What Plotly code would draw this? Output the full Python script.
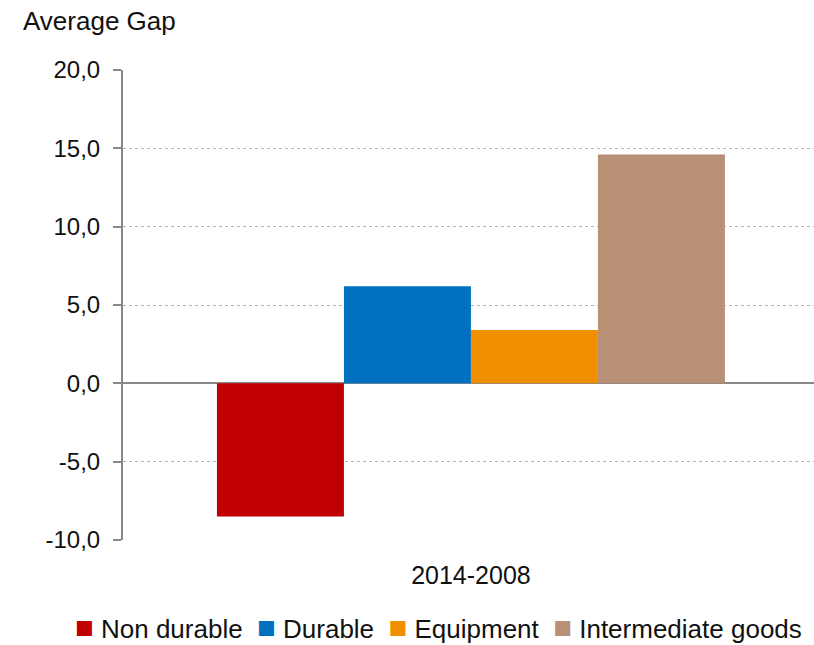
import plotly.graph_objects as go

# Average gap by product type, period 2014-2008
period = ["2014-2008"]
series_names = ["Non durable", "Durable", "Equipment", "Intermediate goods"]
series_values = [-8.5, 6.2, 3.4, 14.6]
series_colors = ["#C00000", "#0070C0", "#F09000", "#B89076"]

y_tick_values = [-10, -5, 0, 5, 10, 15, 20]
y_tick_labels = ["-10,0", "-5,0", "0,0", "5,0", "10,0", "15,0", "20,0"]

FONT = "Liberation Sans, Arial, Helvetica, sans-serif"
NBSP = "\u00a0"

fig = go.Figure()
for name, val, col in zip(series_names, series_values, series_colors):
    fig.add_trace(go.Bar(x=period, y=[val], name=name, showlegend=False,
                         marker=dict(color=col, line=dict(width=0))))

# compact key row beneath the plot: coloured square followed by the series name
key_text = (NBSP * 2).join(
    f"<span style='color:{col};font-size:31px'>\u25a0</span>{NBSP}{name}"
    for name, col in zip(series_names, series_colors)
)

fig.update_layout(
    width=814, height=645,
    margin=dict(l=123, r=0, t=70, b=105),
    paper_bgcolor="white", plot_bgcolor="white",
    barmode="group", bargap=0.27, bargroupgap=0,
    font=dict(family=FONT, size=24, color="#111111"),
    showlegend=False,
    annotations=[
        dict(text="Average Gap", xref="paper", yref="paper", x=-0.148, y=1.105,
             xanchor="left", yanchor="middle", showarrow=False, font=dict(size=26)),
        dict(text=key_text, xref="paper", yref="paper", x=0.456, y=-0.187,
             xanchor="center", yanchor="middle", showarrow=False, font=dict(size=26)),
    ],
)

fig.update_xaxes(range=[-0.5, 0.493], showgrid=False, showline=False, ticks="",
                 tickfont=dict(size=25), ticklabelstandoff=18)
fig.update_yaxes(range=[-10, 20], tickvals=y_tick_values, ticktext=y_tick_labels,
                 showgrid=True, gridcolor="#B4B4B4", griddash="dot", gridwidth=1,
                 zeroline=True, zerolinecolor="#888888", zerolinewidth=2,
                 showline=True, linecolor="#888888", linewidth=2,
                 ticks="outside", ticklen=8, tickcolor="#888888", tickwidth=2,
                 tickfont=dict(size=24), ticklabelstandoff=8)

fig.write_html("out.html")
